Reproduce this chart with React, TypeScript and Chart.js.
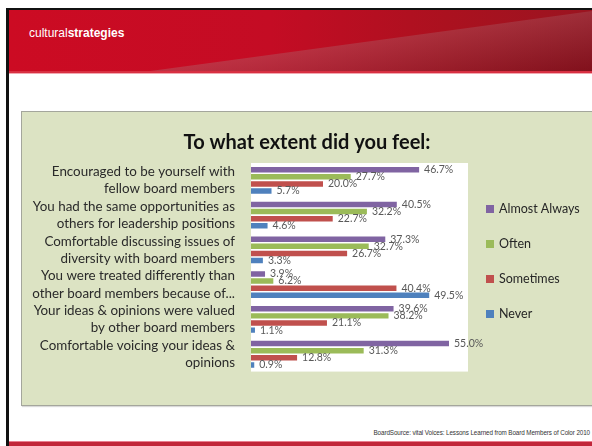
import { useEffect, useRef } from "react";
import { Chart, registerables } from "chart.js";
Chart.register(...registerables);

const categories = [
  ["Encouraged to be yourself with", "fellow board members"],
  ["You had the same opportunities as", "others for leadership positions"],
  ["Comfortable discussing issues of", "diversity with board members"],
  ["You were treated differently than", "other board members because of..."],
  ["Your ideas & opinions were valued", "by other board members"],
  ["Comfortable voicing your ideas &", "opinions"],
];
const seriesNames = ["Almost Always", "Often", "Sometimes", "Never"];
const almostAlways = [46.7, 40.5, 37.3, 3.9, 39.6, 55.0];
const often = [27.7, 32.2, 32.7, 6.2, 38.2, 31.3];
const sometimes = [20.0, 22.7, 26.7, 40.4, 21.1, 12.8];
const never = [5.7, 4.6, 3.3, 49.5, 1.1, 0.9];
const seriesColors = ["#8064a2", "#9bbb59", "#c0504d", "#4f81bd"];
const chartTitle = "To what extent did you feel:";
const brandLight = "cultural";
const brandBold = "strategies";
const sourceText = "BoardSource: vital Voices: Lessons Learned from Board Members of Color 2010";

const FONT = "Lato, 'Open Sans', sans-serif";

const plotBg = {
  id: "plotBg",
  beforeDraw(chart: any) {
    const { ctx, chartArea: a } = chart;
    ctx.save();
    ctx.fillStyle = "#ffffff";
    ctx.fillRect(a.left, a.top, a.right - a.left + 1, a.bottom - a.top);
    ctx.restore();
  },
};

const valueLabels = {
  id: "valueLabels",
  afterDatasetsDraw(chart: any) {
    const { ctx } = chart;
    ctx.save();
    ctx.font = `10.5px ${FONT}`;
    ctx.fillStyle = "#595959";
    ctx.textAlign = "left";
    ctx.textBaseline = "middle";
    chart.data.datasets.forEach((ds: any, di: number) => {
      const meta = chart.getDatasetMeta(di);
      meta.data.forEach((el: any, i: number) => {
        const v = ds.data[i];
        ctx.fillText(v.toFixed(1) + "%", el.x + 5, el.y);
      });
    });
    ctx.restore();
  },
};

const sideLegend = {
  id: "sideLegend",
  afterDraw(chart: any) {
    const { ctx, chartArea: a } = chart;
    ctx.save();
    ctx.font = `12.5px ${FONT}`;
    ctx.textAlign = "left";
    ctx.textBaseline = "middle";
    chart.data.datasets.forEach((ds: any, i: number) => {
      const y = a.top + 46 + i * 35;
      ctx.fillStyle = ds.backgroundColor;
      ctx.fillRect(a.right + 19, y - 4, 8, 8);
      ctx.fillStyle = "#262626";
      ctx.fillText(ds.label, a.right + 32, y);
    });
    ctx.restore();
  },
};

function BarChart() {
  const ref = useRef<HTMLCanvasElement>(null);
  useEffect(() => {
    const seriesData = [almostAlways, often, sometimes, never];
    const chart = new Chart(ref.current as HTMLCanvasElement, {
      type: "bar",
      data: {
        labels: categories,
        datasets: seriesNames.map((name, i) => ({
          label: name,
          data: seriesData[i],
          backgroundColor: seriesColors[i],
          borderWidth: 0,
          categoryPercentage: 0.82,
          barPercentage: 0.77,
        })),
      },
      options: {
        indexAxis: "y",
        animation: false,
        responsive: false,
        layout: { padding: { left: 0, right: 0, top: 0, bottom: 13 } },
        plugins: {
          legend: { display: false },
          tooltip: { enabled: false },
          title: {
            display: true,
            text: chartTitle,
            color: "#111111",
            font: { family: FONT, size: 20, weight: "bold" },
            padding: { top: 19, bottom: 8 },
          },
        },
        scales: {
          x: { display: false, min: 0, max: 60 },
          y: {
            grid: { display: false, drawTicks: false },
            border: { display: false },
            ticks: {
              padding: 16,
              color: "#2a2a2a",
              font: { family: FONT, size: 13.4, lineHeight: 1.3 },
              autoSkip: false,
            },
            afterFit(scale: any) {
              scale.width = 229;
            },
          },
          yRight: {
            type: "category",
            position: "right",
            grid: { display: false, drawTicks: false },
            border: { display: false },
            ticks: { display: false },
            afterFit(scale: any) {
              scale.width = 125;
            },
          },
        },
      },
      plugins: [plotBg, valueLabels, sideLegend],
    } as any);
    return () => chart.destroy();
  }, []);
  return <canvas ref={ref} width={570} height={293} style={{ position: "absolute", left: 22, top: 112, width: 570, height: 293 }} />;
}

export default function App() {
  return (
    <div style={{ position: "absolute", left: 0, top: 0, width: 592, height: 446, background: "#ffffff", overflow: "hidden" }}>
      {/* header */}
      <div style={{ position: "absolute", left: 8, top: 9, width: 584, height: 63, background: "linear-gradient(90deg, #cc0b23 0%, #c40c24 45%, #ab111f 75%, #9a1420 100%)" }} />
      <div style={{ position: "absolute", left: 8, top: 9, width: 584, height: 63, clipPath: "polygon(135px 63px, 584px 2px, 584px 63px)", background: "linear-gradient(170deg, rgba(255,170,180,0.4) 0%, rgba(200,110,120,0.5) 40%, rgba(90,10,20,0.4) 100%)" }} />
      <div style={{ position: "absolute", left: 8, top: 71, width: 584, height: 2, background: "#d83042" }} />
      <div style={{ position: "absolute", left: 8, top: 73, width: 584, height: 1, background: "#f2a8b0" }} />
      <div style={{ position: "absolute", left: 29, top: 24, color: "#ffffff", fontFamily: "'Liberation Sans', Arial, sans-serif", fontSize: 12, lineHeight: "18px", whiteSpace: "nowrap" }}>
        {brandLight}<b>{brandBold}</b>
      </div>
      {/* frame lines */}
      <div style={{ position: "absolute", left: 6, top: 8, width: 586, height: 2, background: "#111111" }} />
      <div style={{ position: "absolute", left: 6, top: 8, width: 3, height: 438, background: "#111111" }} />
      {/* panel */}
      <div style={{ position: "absolute", left: 21, top: 111, width: 580, height: 293, background: "#dce3c3", border: "1px solid #a4a69c", boxShadow: "1px 1px 1px rgba(0,0,0,0.15)" }} />
      <BarChart />
      {/* footer */}
      <div style={{ position: "absolute", right: 2, top: 429, color: "#333333", fontFamily: "'Liberation Sans', Arial, sans-serif", fontSize: 6.3, lineHeight: "8px", whiteSpace: "nowrap", letterSpacing: "-0.1px" }}>
        {sourceText}
      </div>
      <div style={{ position: "absolute", left: 9, top: 441, width: 583, height: 1, background: "#e88090" }} />
      <div style={{ position: "absolute", left: 9, top: 442, width: 583, height: 4, background: "#c1273a" }} />
    </div>
  );
}
